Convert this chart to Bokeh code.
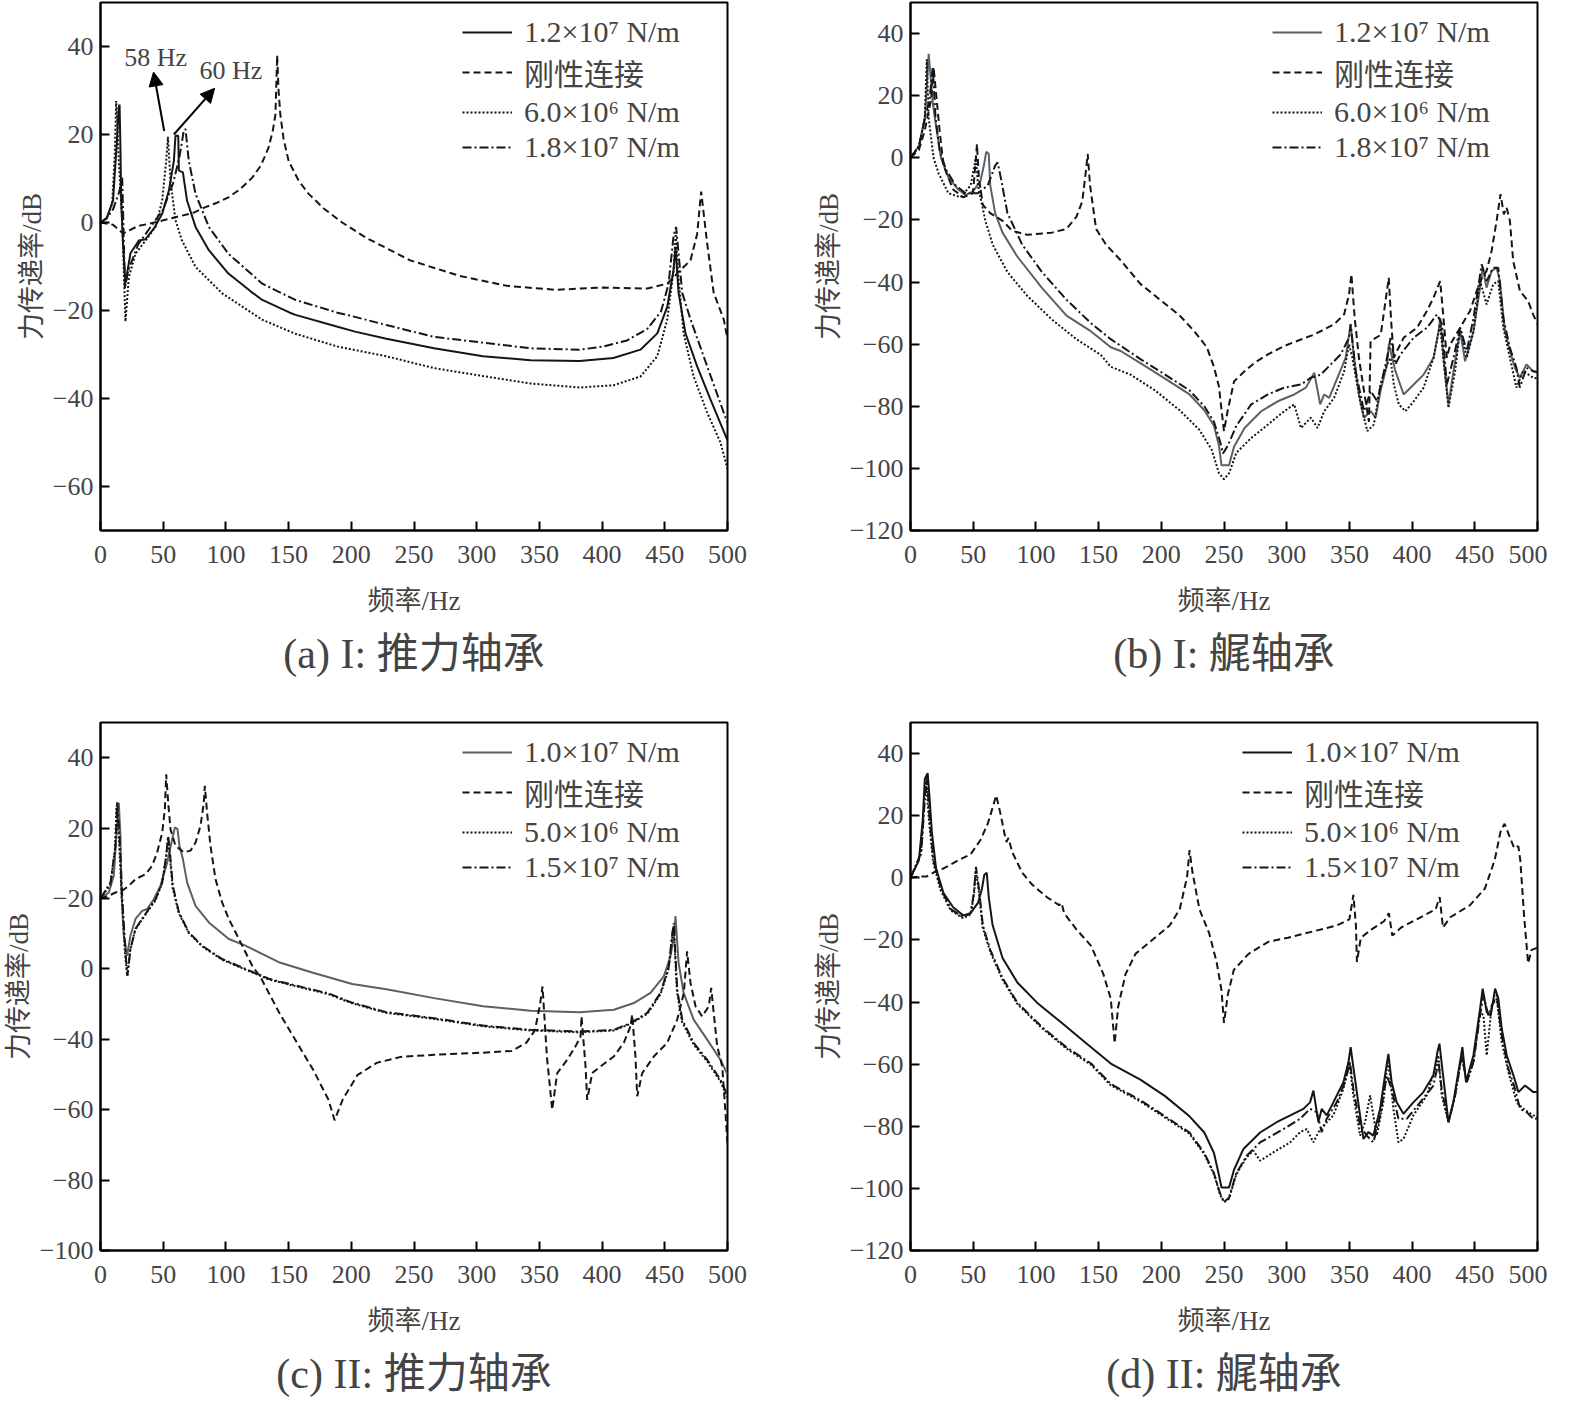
from bokeh.plotting import figure
from bokeh.layouts import column, row
from bokeh.models import (Arrow, NormalHead, Label, Legend, LegendItem,
                          FixedTicker)
from bokeh.embed import file_html
from bokeh.resources import INLINE

SERIF = "'Liberation Serif', 'Noto Sans CJK SC', serif"

freq_ticks = [0, 50, 100, 150, 200, 250, 300, 350, 400, 450, 500]

# ---- (a) I: thrust bearing, (freq Hz, dB)
a_k12 = [(0, 0), (5, 1), (10, 5), (13, 18), (14.5, 26), (15.2, 26.8), (15.9, 17), (16.5, 5), (18, -5),
         (19.9, -13.8), (23.9, -7), (30.6, -4.1), (35.9, -3.8), (42.5, -1.4), (49.2, 2), (54.5, 7.2),
         (58.5, 14), (59.8, 19.7), (62, 19.7), (62.5, 11.8), (65.7, 11.4), (69, 5), (75.8, -1),
         (86.4, -6.3), (102, -11.6), (120, -15.7), (129, -17.6), (151, -20.5), (155.5, -21),
         (189, -23.7), (203, -24.8), (228, -26.4), (266, -28.6), (305, -30.4), (343, -31.3),
         (382, -31.5), (409, -30.8), (430.6, -28.9), (444, -25.2), (452, -19.1), (457, -10.8),
         (458.5, -5.5), (461, -16), (466.5, -25.2), (475.8, -32.7), (486.4, -40.2), (500, -49.5)]
a_rigid = [(0, 0), (10, -0.5), (18, -2.5), (22.7, -1.8), (30, -0.8), (38.5, -0.3), (50, 0.5),
           (59.8, 1.2), (74, 2.2), (83.7, 3.5), (93, 4.5), (102, 5.7), (111, 7.5), (121, 10.2),
           (128, 13), (134, 17), (137.5, 21), (139.5, 24.6), (140.9, 38), (142, 30), (143.4, 24.6),
           (146, 19), (150, 14), (158, 9.5), (166, 6.5), (178, 3.2), (192.7, 0), (212, -3.5),
           (247, -8.6), (286, -12.1), (324, -14.4), (363, -15.3), (383, -15), (401, -14.8),
           (436, -15), (452, -13.9), (462.5, -10.8), (470.5, -8.6), (475.8, -2.6), (479, 7),
           (483.8, -4.8), (489, -16), (497, -22), (500, -26.5)]
a_k6 = [(0, 0), (5, 1), (9.3, 4.3), (11.4, 15.5), (12.5, 27.6), (13.5, 22), (14.6, 14), (17.3, 0.2),
        (19.9, -22.5), (22.6, -12.4), (27.9, -7.1), (35.9, -4.1), (43.9, -1), (49.2, 5), (52.4, 14),
        (53.8, 19.5), (55.8, 9.5), (59.8, 0.5), (65, -4.1), (75.8, -10.1), (97, -16.1), (129, -22.1),
        (155.5, -25.3), (189, -28.2), (228, -30.4), (266, -33.1), (305, -34.9), (343, -36.6),
        (382, -37.5), (409, -37), (430.6, -35), (444, -30.4), (452, -22), (457, -10.8),
        (458.7, -2.6), (461, -13), (465, -25.2), (473, -35), (483.8, -43.2), (494.4, -50), (500, -56)]
a_k18 = [(0, 0), (5, 1), (10, 3), (15, 7), (17.3, 10.2), (18.2, 0), (19.5, -15), (22, -11), (30, -5),
         (40, -1), (50, 3), (58, 9), (63, 15), (66.5, 21), (67.8, 21.2), (70.4, 14), (75.8, 6.5),
         (86.4, -1), (102, -7.1), (129, -13.9), (155.5, -17.6), (189, -20.5), (198, -21.1),
         (228, -23.3), (266, -26), (305, -27.3), (343, -28.6), (382, -28.9), (401, -28.2),
         (420, -26.8), (436, -24.2), (447, -20.2), (453, -14), (457, -3), (459, -1), (463.9, -16),
         (470.5, -22), (483.8, -32.7), (497, -43.2), (500, -45.5)]

# ---- (b) I: stern bearing
b_k12 = [(0, 0), (6.7, 3.8), (11.4, 12.7), (14.5, 33.5), (17.7, 17.8), (20.4, 10.2), (24.3, 0),
         (30.2, -6.3), (38, -10.2), (44, -12), (49.8, -10.8), (55.7, -7.6), (58.5, -2.5), (60.4, 1.9),
         (62.4, 1.3), (63.6, -8.9), (67.5, -17.8), (73.4, -24.1), (85, -31.7), (104.8, -41.9),
         (124.4, -50.8), (144, -55.9), (159.7, -61), (167.6, -62.2), (183, -66), (203, -71.1),
         (222.5, -76.2), (234.3, -81.3), (242, -86.3), (246, -92.7), (248, -99), (254, -99),
         (258, -93), (266.4, -87), (279.7, -81.6), (292.9, -78.4), (306, -76.2), (315.3, -74),
         (322, -69.2), (326.7, -79.4), (329.9, -76.2), (333.9, -77.3), (340.5, -70.8), (347, -64.4),
         (351, -53.6), (353.7, -64.4), (357.6, -76.2), (361.6, -83.7), (366.9, -81.6), (370.9, -83.7),
         (374.8, -75.1), (380.1, -66.5), (381.5, -60), (386.7, -68.7), (393.3, -76.2), (401.3, -73),
         (409.2, -69.8), (417.1, -64.4), (421.1, -55.8), (422.4, -51.5), (425.1, -64.4), (429, -79.4),
         (433, -68.7), (438.3, -55.8), (442.3, -65.5), (449, -55.8), (454.2, -41.8), (456.3, -35.4),
         (459.4, -41.8), (463.4, -36.4), (467.4, -35.4), (470, -39.7), (474, -55.8), (478, -62.2),
         (482, -67.6), (485.9, -70.8), (491.2, -66.5), (496.5, -68.7), (500, -69)]
b_rigid = [(0, 0), (6.7, 2.5), (11.4, 8.9), (16.5, 19), (18.4, 29.2), (20.8, 19), (23.2, 8.9),
           (26.3, -2.5), (34, -10.2), (42, -12.7), (49.8, -11.4), (52.2, 0), (53, 4.4), (54.5, -6.3),
           (57.7, -15.2), (63.6, -17.8), (73.4, -20.3), (81.2, -23.5), (93, -24.8), (112.6, -24.1),
           (124.4, -22.9), (132.3, -19), (137, -14), (140, -3.8), (141.3, 1.3), (143.2, -8.9),
           (148, -22.9), (155.8, -27.9), (167.6, -33), (183.3, -40.6), (199, -45.7), (214.7, -50.8),
           (226.5, -55.9), (236.3, -61), (242, -67.3), (246, -73.7), (248.4, -82.5), (250, -88),
           (253, -81.3), (258, -72), (266.4, -68.7), (274.4, -66), (285, -63.3), (298, -60.6),
           (311.4, -58.5), (322, -56.9), (337.8, -53.6), (345.8, -50.4), (349.7, -44), (351.6, -37.5),
           (354.2, -51.5), (357.6, -64.4), (361.6, -75), (365.6, -85), (366.9, -59), (375, -57),
           (381.4, -38.6), (383.3, -52.6), (385.4, -64.4), (388, -62.2), (393.3, -57.9), (404, -54.7),
           (411.8, -49.3), (417.1, -45), (422.4, -39.7), (425, -51.5), (427.7, -64.4), (430.4, -60.1),
           (438.3, -54.7), (446.2, -49.3), (454.2, -39.7), (459.4, -36.4), (463.4, -30), (467.4, -20.3),
           (470.5, -11.7), (473.2, -18.2), (475.3, -16), (478, -20.3), (480.6, -33.2), (486, -42.9),
           (492.5, -46.1), (496.5, -50.4), (500, -53.5)]
b_k6 = [(0, 0), (6.7, 3.8), (11.4, 12.7), (13, 31.7), (14.5, 12.7), (18.4, 0), (22.4, -5), (30.2, -11.4),
        (40, -12.7), (47.9, -8.9), (51, -2.5), (52.2, 0.5), (53.8, -8.9), (59.7, -20.3), (65.5, -27.9),
        (77.3, -36.8), (93, -44.4), (112.6, -52), (132.3, -58.4), (151.9, -63.5), (159.7, -67.3),
        (175.4, -69.8), (195, -74.9), (214.7, -81.3), (230.4, -87.6), (240.2, -94), (246, -101.6),
        (250, -103.5), (254, -101.6), (259.8, -95), (271.7, -90.2), (285, -85.9), (298, -81.6),
        (306, -79.4), (311.4, -87), (319.3, -83.7), (324.6, -87), (329.9, -81.6), (337.8, -77.3),
        (345.8, -68.7), (349.7, -60.1), (352.4, -64.4), (359, -79.4), (364.3, -88), (369.5, -85.9),
        (374.8, -73), (380, -66.5), (382.8, -64.4), (385.4, -73), (389.4, -79.4), (394.7, -81.6),
        (401.3, -78.4), (409.2, -74), (417.1, -64.4), (422.4, -53.6), (425.1, -65.5), (429, -80.5),
        (434.3, -68.7), (438.3, -54.7), (443.6, -64.4), (449, -55.8), (454.2, -39.7), (459.4, -47.2),
        (464.7, -40.7), (468.7, -39.7), (472.7, -54.7), (478, -64.4), (483.2, -74), (488.5, -68.7),
        (496.5, -70.8), (500, -71)]
b_k18 = [(0, 0), (6.7, 3.5), (11.4, 12.7), (15.3, 19), (17.7, 29.2), (20, 12.7), (23.2, 2.5),
         (28.3, -3.8), (36, -8.9), (44, -11.4), (53.8, -11.4), (61.6, -8.9), (67.5, -2.5), (69.5, -1.5),
         (72.6, -7.6), (77.3, -17.8), (89, -27.9), (104.8, -36.8), (124.4, -45.7), (144, -53.3),
         (159.7, -58.4), (183.3, -64.8), (203, -69.8), (222.5, -74.9), (234.3, -80), (242, -85),
         (246.9, -91.4), (249.2, -95.2), (253, -92.7), (259.8, -86.3), (271.7, -79.4), (285, -76.2),
         (298, -74), (311.4, -73), (319.3, -70.8), (327.2, -69.8), (335.2, -66.5), (343.1, -63.3),
         (349.7, -57.9), (351, -53.6), (355, -68.7), (361.6, -81.6), (367, -75.1), (372.2, -78.4),
         (380, -64.4), (382.8, -58), (386.7, -66.5), (390.7, -63.3), (401.3, -57.9), (411.9, -54.7),
         (419.8, -50.4), (423.8, -53.6), (427.7, -73), (433, -64.4), (438.3, -54.7), (443.6, -62.2),
         (449, -51.5), (455.5, -34.3), (459.4, -39.7), (464.7, -35.4), (468.7, -35.4), (472.7, -51.5),
         (478, -61.2), (483.2, -67.6), (485.9, -74), (491.2, -67.6), (496.5, -68.7), (500, -69)]

# ---- (c) II: thrust bearing
c_k10 = [(0, 0), (6.6, 1.7), (10.6, 6.5), (13.3, 21.6), (14.6, 27.2), (15.9, 17.8), (16.7, 1.7),
         (18.6, -10.5), (21.3, -16.2), (23.9, -10.5), (27.9, -5.8), (33.2, -3.5), (37.2, -3),
         (42.5, -0.2), (47.8, 3.6), (53.2, 10.2), (56.6, 15.9), (59.3, 20.2), (61.4, 19.7), (63, 15),
         (65.7, 11.2), (69.1, 4.5), (75.8, -2.1), (86.4, -6.8), (102.3, -11.5), (115.6, -13.4),
         (142.2, -18.1), (168.8, -21), (200.7, -24.3), (228, -25.8), (266, -28.3), (305, -30.6),
         (343, -31.9), (382, -32.3), (401, -31.8), (409.4, -31.6), (425.3, -29.7), (438.6, -26.8),
         (449.2, -22.1), (454.5, -16.4), (457.7, -9.8), (458.5, -5), (461, -18.3), (465, -26.8),
         (473, -34.4), (483.8, -40.1), (494.4, -45.8), (500, -50)]
c_rigid = [(0, 0), (6.6, 0.8), (12, 1.7), (17.3, 2.2), (22.6, 3.6), (27.9, 5.5), (35.9, 6.9), (41.2, 9.3),
           (45.2, 13.1), (49.2, 18.7), (51.3, 25.4), (52.4, 35.3), (54, 27.2), (55.8, 19.7), (59.8, 15),
           (66.5, 13.1), (71.8, 13.6), (75.8, 15.9), (79.7, 20.6), (82.4, 27.2), (83.2, 32), (85, 24.4),
           (87.7, 15), (91.7, 5.5), (97, -1.1), (102.3, -5.8), (107.7, -9.6), (113, -13.4), (121, -19.1),
           (128, -22.6), (143.2, -32.9), (158.6, -42.1), (170.1, -49), (181.7, -57.1), (186.7, -63),
           (193.2, -57.1), (204.8, -50.2), (220.2, -46.7), (239.4, -45), (266.4, -44.4), (304.8, -43.8),
           (327.9, -43.3), (339.5, -41), (346.4, -37.5), (350.3, -30.6), (352.5, -25), (356, -45),
           (360.2, -60), (364.2, -49.6), (372.2, -45.8), (378.8, -42), (382.8, -39.2), (383.6, -33.5),
           (386.8, -47.7), (388.1, -57.2), (392.1, -49.6), (398.7, -47.7), (409.3, -44.9), (417.3, -41),
           (422.6, -36.3), (424, -33), (426.6, -44.9), (428, -56.2), (432, -49.6), (441.2, -44.9),
           (451.9, -41), (459.9, -34.4), (465.2, -26.8), (467.8, -15), (470.5, -24), (474.5, -30.6),
           (479.8, -33.5), (485.1, -30.6), (487, -25.4), (489, -32.5), (491.8, -42), (495.8, -47.7),
           (498.4, -61), (500, -70)]
c_k5 = [(0, 0), (8, 4), (11.5, 14), (12.8, 26.5), (14.8, 16), (17, 0), (19.6, -16), (21.3, -22),
        (23.6, -15), (27.6, -9), (33, -6), (38.5, -3.2), (44, -0.4), (49, 4.2), (52.2, 11.5),
        (53.8, 17.2), (55.4, 11.5), (57.5, 3), (62.5, -4.2), (70.4, -9.8), (81, -13.6), (97, -17.4),
        (115.6, -20.2), (134.2, -23), (155.5, -24.9), (182, -27.2), (200, -29.7), (228, -32.5),
        (266, -34.2), (305, -36.3), (343, -37.5), (382, -38), (409.4, -37.5), (422.6, -35.6),
        (436, -32.8), (446.6, -27.2), (453.2, -19.8), (456, -10.5), (457, -7.8), (459.7, -26.5),
        (463.7, -35), (473, -41.5), (483.8, -46.3), (494.4, -52), (500, -56.5)]
c_k15 = [(0, 0), (8, 4.6), (12, 15), (13.3, 27.7), (15.2, 17.8), (17.3, 0.8), (19.9, -15.3),
         (21.5, -21.9), (23.9, -14.3), (27.9, -8.6), (33.2, -5.8), (38.5, -3), (43.9, -0.2), (49.2, 4.5),
         (52.4, 12.1), (54, 17.8), (55.6, 12.1), (57.7, 3.6), (62.5, -3.9), (70.4, -9.6), (81, -13.4),
         (97, -17.2), (115.6, -20), (134.2, -22.8), (155.5, -24.7), (182, -27), (200, -29.5),
         (228, -32.3), (266, -34), (305, -36.1), (343, -37.3), (382, -37.8), (409.4, -37.3),
         (422.6, -35.4), (436, -32.5), (446.6, -26.8), (453.2, -19.3), (456, -9.8), (457.2, -7),
         (459.9, -25.9), (463.9, -34.4), (473, -41), (483.8, -45.8), (494.4, -51.5), (500, -56)]

# ---- (d) II: stern bearing
d_k10 = [(0, 0), (6.7, 5.6), (9.8, 18.7), (11.4, 31.8), (13.7, 33.7), (15.3, 25.2), (17, 14.8),
         (20.4, 3), (26.3, -4.9), (34, -9.5), (42, -12.1), (47.9, -11.4), (53.8, -8.1), (57, -3.5),
         (58.9, 1), (60.8, 1.6), (62.4, -6.2), (65.5, -15.3), (73.4, -25.8), (85.2, -33.7),
         (100.9, -40.2), (120.5, -46.7), (140.1, -53.3), (159.7, -59.8), (183.3, -65), (203, -70.3),
         (222.5, -76.8), (234.3, -82), (242, -88.6), (246, -95.8), (248, -99.7), (254, -99.7),
         (258, -94), (265.5, -87.3), (278.8, -82), (292, -78.7), (305.3, -76), (313.3, -74.4),
         (318.6, -72.3), (321.3, -68.5), (325.3, -78.7), (327.9, -74.4), (331.9, -76.5), (337.2, -72.3),
         (345.2, -65.8), (349.2, -59.4), (351, -54.5), (353.7, -62.6), (358.5, -76.5), (361.2, -84.1),
         (365.1, -81.9), (369.1, -83), (374.5, -74.4), (378.4, -63.6), (381.1, -56.7), (383.7, -65.8),
         (387.7, -72.3), (393.1, -76), (401, -72.3), (409, -69), (417, -63.6), (420.2, -56.1),
         (421.8, -53.4), (424.4, -62.6), (429, -78.7), (432.9, -72.3), (438.2, -59.4), (440.1, -54.5),
         (443, -65.8), (448.9, -57.2), (454.2, -42.2), (456.3, -35.7), (459.5, -43.2), (462.7, -44.3),
         (466.2, -35.7), (468.8, -38.9), (471.5, -48.6), (475.5, -57.2), (480.8, -63.6), (484.8, -69),
         (490.1, -66.9), (496.7, -69), (500, -69)]
d_rigid = [(0, 0), (6.7, 0.4), (12.6, 0.4), (18.4, 1.7), (26.3, 3), (38, 5.6), (48, 7.6), (55.7, 12.1),
           (61.6, 17.4), (65.5, 22.6), (68.3, 26.5), (71.4, 21.3), (75.4, 13.4), (76.5, 11.5),
           (78.1, 12.8), (81.2, 8.2), (89, 1.7), (97, -2.2), (108.7, -6.2), (118.5, -8.8), (120.5, -8.1),
           (122.5, -11.4), (132.3, -16.6), (144, -21.9), (153.8, -31), (159.7, -38.9), (162.8, -53.3),
           (165.6, -41.5), (171.5, -31), (179.4, -24.5), (191.1, -20.6), (206.8, -15.3), (214.7, -10.1),
           (220.6, 0.4), (222.5, 8.9), (224.9, 1.7), (230.4, -10.1), (238.2, -17.9), (244.1, -27.1),
           (248, -36.2), (250, -46.7), (253.1, -37.5), (257.8, -29.7), (269.6, -24.5), (285.3, -20.6),
           (301, -19.3), (320.6, -17.3), (340.3, -15.3), (350, -13.4), (353.2, -5.5), (355.2, -15.3),
           (356, -27.1), (359.1, -19.3), (367.7, -16.6), (377.6, -14), (381.5, -11.4), (384.2, -18.6),
           (391.3, -16), (407, -12.7), (418.8, -10.1), (422, -6.2), (424.6, -16), (430.5, -12.7),
           (446.2, -8.8), (458, -3.5), (465.8, 5.6), (470.5, 14.8), (473.7, 17.4), (477.6, 13.4),
           (481.5, 9.5), (484.7, 10.2), (486.3, 5.6), (489.4, -12.7), (492.5, -27.5), (495.3, -23.2),
           (500, -22.5)]
d_k5 = [(0, 0), (8.2, 7.5), (11, 24), (12.6, 31), (14.8, 18), (18, 5), (24, -4), (32, -10.5), (42, -13),
        (48, -11.8), (50.6, -5.5), (52, 2.5), (54.4, -4), (57.5, -16), (63.6, -23.8), (73.4, -32.8),
        (85.2, -40.6), (104.8, -48.4), (124.4, -55), (144, -60.2), (159.7, -66.8), (183.3, -72),
        (203, -77.2), (222.5, -82.4), (234.3, -89), (242, -95.5), (246.9, -102), (250, -104.5),
        (254, -103.3), (259.8, -95.5), (268, -90), (273.4, -87.8), (278.8, -91.1), (289.4, -88.4),
        (302.7, -85.2), (310.7, -81.9), (316, -80.9), (321.3, -85.2), (325.3, -81.9), (329.3, -79.8),
        (337.2, -76.5), (345.2, -68), (350, -59.4), (353.2, -70.1), (358.5, -83), (362.5, -78.7),
        (366.5, -70.1), (369.1, -76.5), (371.8, -83), (377.1, -72.3), (380.3, -59.4), (382.4, -63.6),
        (385.1, -74.4), (389.1, -85.2), (393.1, -84.1), (401, -76.5), (411.7, -70.1), (418.3, -61.5),
        (421, -57.2), (423.6, -70.1), (429, -78.7), (434.3, -70.1), (439.6, -57.2), (443.6, -65.8),
        (448.9, -59.4), (454.2, -43.2), (456.9, -44.3), (459.5, -57.2), (463.5, -41.1), (467.5, -38.9),
        (471.5, -52.9), (476.8, -62.6), (483.4, -72.3), (488.7, -74.4), (496.7, -76.5), (500, -77)]
d_k15 = [(0, 0), (8.6, 8.2), (11.4, 25.2), (13, 32.4), (15.3, 18.7), (18.4, 5.6), (24.3, -3.5),
         (32.2, -10.1), (42, -12.7), (47.9, -11.4), (50.6, -4.8), (52.2, 3.5), (54.6, -3.5),
         (57.7, -15.3), (63.6, -23.2), (73.4, -32.3), (85.2, -40.2), (104.8, -48), (124.4, -54.6),
         (144, -59.8), (159.7, -66.4), (183.3, -71.6), (203, -76.8), (222.5, -82), (234.3, -88.6),
         (242, -95.1), (246.9, -101.7), (250, -104.3), (254, -103), (259.8, -95.1), (268.1, -89.5),
         (278.8, -85.2), (297.4, -80.9), (310.7, -77.6), (318.6, -74.4), (324, -75.5), (327.9, -81.9),
         (331.9, -77.6), (339.9, -72.3), (346.5, -65.8), (350.5, -59.4), (353.2, -68), (358.5, -79.8),
         (363.8, -83), (369.1, -85.2), (374.5, -76.5), (379.8, -63.6), (383.7, -68), (389.1, -77.6),
         (395.7, -77.6), (406.4, -72.3), (417, -66.9), (421, -59.4), (423.6, -68), (429, -78.7),
         (434.3, -70.1), (439.6, -57.2), (443.6, -65.8), (448.9, -59.4), (454.2, -44.3), (456.9, -37.9),
         (460.8, -44.3), (464.8, -40), (467.5, -37.9), (471.5, -50.8), (476.8, -61.5), (482.1, -68),
         (486.1, -74.4), (491.4, -75.5), (496.7, -77.6), (500, -77.5)]

names_1 = ["1.2×10⁷ N/m", "刚性连接", "6.0×10⁶ N/m", "1.8×10⁷ N/m"]
names_2 = ["1.0×10⁷ N/m", "刚性连接", "5.0×10⁶ N/m", "1.5×10⁷ N/m"]

ticks_a = [-60, -40, -20, 0, 20, 40]
ticks_b = [-120, -100, -80, -60, -40, -20, 0, 20, 40]
ticks_c = [-100, -80, -60, -40, -20, 0, 20, 40]
# panel (c) carries swapped labels on the 0 / -20 ticks in the original
labels_c = {0: "−20", -20: "0"}

BLACK = "#151515"
GREY = "#56616a"
DASHES = ["solid", "7 4", "2 2", "9 3 2 3"]


def fmt(v):
    return ("−%d" % -v) if v < 0 else str(v)


def panel(series, names, ylo, yticks, caption, solid_color, legend_x, bottom, right, overrides=None):
    p = figure(frame_width=627, frame_height=528, x_range=(0, 500), y_range=(ylo, 50),
               output_backend="svg", toolbar_location=None,
               min_border_left=100, min_border_right=right, min_border_top=2,
               min_border_bottom=bottom, title=caption, title_location="below")
    p.grid.visible = False
    p.outline_line_color = "black"
    p.outline_line_width = 2
    p.background_fill_color = "white"
    p.border_fill_color = "white"

    p.title.text_font = SERIF
    p.title.text_font_size = "42px"
    p.title.text_font_style = "normal"
    p.title.align = "center"
    p.title.standoff = 21

    p.xaxis.ticker = FixedTicker(ticks=freq_ticks)
    p.yaxis.ticker = FixedTicker(ticks=yticks)
    labels = {v: fmt(v) for v in yticks}
    if overrides:
        labels.update(overrides)
    p.yaxis.major_label_overrides = labels
    for ax in (p.xaxis, p.yaxis):
        ax.axis_line_width = 2
        ax.major_tick_line_width = 2
        ax.major_tick_in = 9
        ax.major_tick_out = 0
        ax.minor_tick_line_color = None
        ax.major_label_text_font = SERIF
        ax.major_label_text_font_size = "26px"
        ax.axis_label_text_font = SERIF
        ax.axis_label_text_font_size = "27px"
        ax.axis_label_text_font_style = "normal"
    p.xaxis.axis_label = "频率/Hz"
    p.yaxis.axis_label = "力传递率/dB"
    p.xaxis.major_label_standoff = 15
    p.xaxis.axis_label_standoff = 20
    p.yaxis.major_label_standoff = 7
    p.yaxis.axis_label_standoff = 3

    items = []
    for i, pts in enumerate(series):
        f = [q[0] for q in pts]
        db = [q[1] for q in pts]
        color = solid_color if i == 0 else BLACK
        r = p.line(f, db, line_color=color, line_width=2, line_dash=DASHES[i])
        items.append(LegendItem(label=names[i], renderers=[r]))

    legend = Legend(items=items, location=(legend_x, 366), border_line_color=None,
                    background_fill_alpha=0, label_text_font=SERIF, label_text_font_size="30px",
                    glyph_width=50, glyph_height=20, label_standoff=12, spacing=1,
                    padding=4, margin=0)
    p.add_layout(legend)
    return p


pa = panel([a_k12, a_rigid, a_k6, a_k18], names_1, -70, ticks_a, "(a) I: 推力轴承",
           BLACK, 362, 190, 83)
pb = panel([b_k12, b_rigid, b_k6, b_k18], names_1, -120, ticks_b, "(b) I: 艉轴承",
           GREY, 362, 190, 10)
pc = panel([c_k10, c_rigid, c_k5, c_k15], names_2, -100, ticks_c, "(c) II: 推力轴承",
           GREY, 362, 140, 83, overrides=labels_c)
pd = panel([d_k10, d_rigid, d_k5, d_k15], names_2, -120, ticks_b, "(d) II: 艉轴承",
           BLACK, 332, 140, 10)

# frequency markers in (a)
pa.add_layout(Arrow(end=NormalHead(size=14, fill_color="black", line_color="black"),
                    x_start=50.8, y_start=20.8, x_end=42.3, y_end=34.2,
                    line_width=2, line_color="black"))
pa.add_layout(Arrow(end=NormalHead(size=14, fill_color="black", line_color="black"),
                    x_start=58.5, y_start=20, x_end=91, y_end=30.5,
                    line_width=2, line_color="black"))
pa.add_layout(Label(x=44, y=37.5, text="58 Hz", text_font=SERIF, text_font_size="26px",
                    text_align="center", text_baseline="middle"))
pa.add_layout(Label(x=104, y=34.5, text="60 Hz", text_font=SERIF, text_font_size="26px",
                    text_align="center", text_baseline="middle"))

layout = column(row(pa, pb), row(pc, pd))
open("out.html", "w").write(file_html(layout, INLINE))
